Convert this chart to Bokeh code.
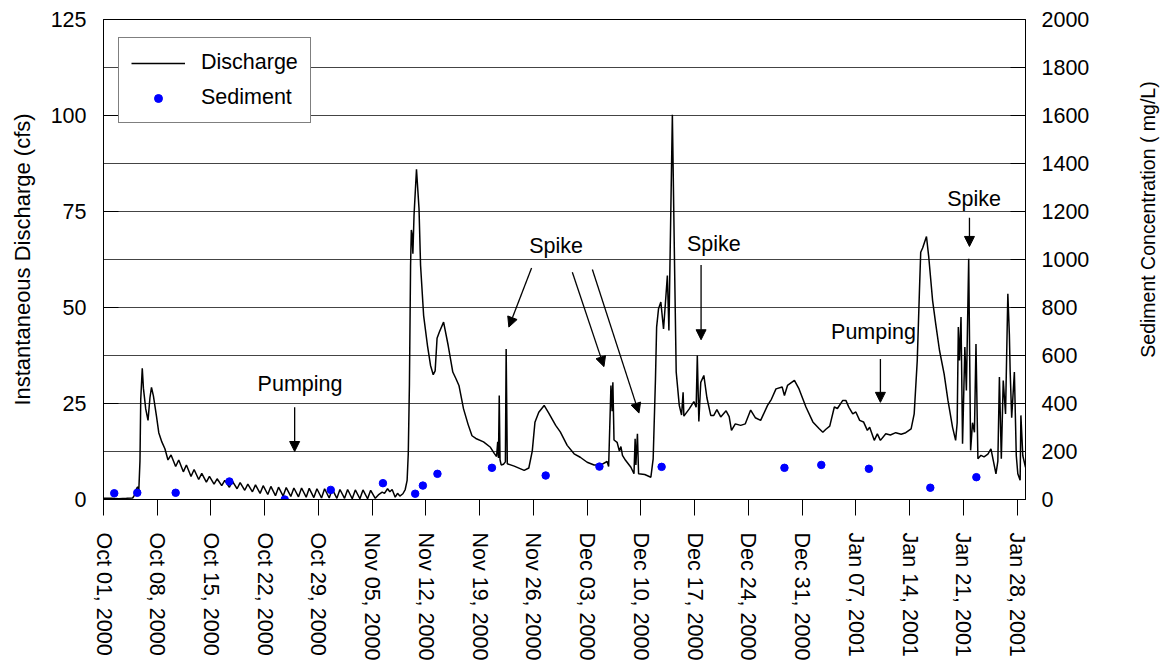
import math
import pandas as pd
from bokeh.plotting import figure
from bokeh.layouts import row
from bokeh.models import (Range1d, LinearAxis, FixedTicker, DatetimeTickFormatter,
                          Legend, LegendItem, Label, Arrow, NormalHead)
from bokeh.embed import file_html
from bokeh.resources import INLINE

START = pd.Timestamp("2000-10-01")
FONT = "Liberation Sans"

# ---- data (days after Oct 01 2000 00:00) ----
discharge_days = [
    0.0, 1.0, 2.0, 3.0, 3.8, 4.0, 4.3, 4.45, 4.6, 4.75, 4.85, 5.05, 5.2, 5.5, 5.8, 6.05, 6.25, 6.5, 6.9, 7.2,
    7.6, 8.0, 8.4, 8.8, 9.4, 9.8, 10.4, 10.8, 11.4, 11.8, 12.4, 12.8, 13.4, 13.8, 14.4, 14.8, 15.4, 15.8,
    16.4, 16.8, 17.4, 17.8, 18.4, 18.8, 19.4, 19.8, 20.4, 20.8, 21.4, 21.8, 22.4, 22.8, 23.4, 23.8, 24.4,
    24.8, 25.4, 25.8, 26.4, 26.8, 27.4, 27.8, 28.4, 28.8, 29.4, 29.8, 30.4, 30.8, 31.4, 31.8, 32.4, 32.8,
    33.4, 33.8, 34.4, 34.8, 35.4, 35.8, 36.3, 36.6, 37.0, 37.3, 37.6, 38.0, 38.3, 38.6, 39.0, 39.3, 39.55,
    39.7, 39.85, 40.0, 40.1, 40.2, 40.3, 40.45, 40.77, 41.1, 41.3, 41.7, 42.2, 42.6, 42.95, 43.2, 43.45,
    43.75, 44.3, 44.9, 45.5, 45.9, 46.3, 46.9, 47.5, 48.0, 48.5, 49.5, 50.4, 50.9, 51.2, 51.35, 51.45,
    51.55, 51.65, 51.8, 52.1, 52.35, 52.45, 52.6, 53.5, 54.8, 55.4, 55.85, 56.2, 56.7, 57.4, 58.0, 58.9,
    59.5, 60.4, 61.3, 62.1, 63.0, 63.9, 64.8, 65.6, 65.8, 66.1, 66.25, 66.35, 66.5, 66.9, 67.2, 67.4, 67.6,
    68.0, 68.7, 69.1, 69.25, 69.35, 69.55, 69.7, 70.5, 71.3, 71.6, 71.9, 72.05, 72.3, 72.6, 72.8, 72.95,
    73.2, 73.45, 73.65, 74.1, 74.4, 74.6, 75.0, 75.3, 75.5, 75.6, 76.3, 76.9, 77.2, 77.35, 77.55, 77.8,
    78.2, 78.6, 79.1, 79.5, 79.9, 80.4, 81.1, 81.5, 81.8, 82.3, 83.0, 83.6, 84.3, 84.9, 85.6, 86.5, 87.0,
    87.6, 88.4, 88.7, 89.1, 90.0, 90.6, 91.5, 92.4, 93.2, 93.7, 94.1, 94.6, 95.2, 95.6, 96.3, 96.7, 97.1,
    97.6, 98.0, 98.5, 99.0, 99.5, 99.8, 100.4, 100.8, 101.2, 101.9, 102.5, 103.2, 103.9, 104.5, 105.2,
    105.6, 106.0, 106.3, 106.45, 106.7, 107.2, 107.5, 108.0, 108.4, 108.9, 109.5, 110.0, 110.6, 111.0,
    111.2, 111.35, 111.5, 111.7, 111.9, 112.2, 112.4, 112.7, 112.95, 113.2, 113.45, 113.65, 113.9, 114.3,
    114.7, 115.2, 115.6, 115.9, 116.25, 116.5, 116.7, 116.95, 117.2, 117.5, 117.8, 118.0, 118.1, 118.3,
    118.65, 118.9, 119.1, 119.4, 119.5, 119.75, 120.1,
]
discharge_cfs = [
    0.3, 0.3, 0.2, 0.3, 0.4, 1.0, 2.8, 3.3, 2.4, 10.0, 26.0, 34.2, 29.0, 23.6, 20.6, 26.5, 29.2, 27.0, 21.7, 17.4,
    15.0, 13.2, 10.3, 11.6, 8.6, 10.3, 7.2, 9.0, 6.0, 7.8, 5.2, 6.8, 4.5, 6.0, 4.0, 5.4, 3.6, 5.0,
    3.2, 4.7, 2.8, 4.4, 2.4, 4.0, 2.0, 3.8, 1.6, 3.6, 1.3, 3.4, 1.0, 3.2, 0.9, 3.1, 0.8,
    3.0, 0.7, 3.0, 0.6, 2.9, 0.5, 2.8, 0.4, 2.8, 0.4, 2.7, 0.3, 2.6, 0.3, 2.6, 0.2, 2.5,
    0.2, 2.5, 0.2, 2.4, 0.3, 1.2, 1.9, 1.6, 2.8, 2.0, 2.6, 0.6, 1.6, 0.9, 1.5, 2.6, 5.0,
    12.0, 30.0, 61.0, 70.2, 69.0, 64.0, 74.0, 86.0, 75.7, 61.0, 47.9, 40.1, 34.9, 32.5, 33.5, 42.0,
    43.6, 46.2, 40.1, 33.2, 31.5, 29.7, 23.6, 19.5, 16.6, 15.9, 15.0, 13.6, 12.0, 11.2, 15.0, 10.8,
    27.1, 10.4, 9.0, 9.2, 9.8, 39.2, 9.3, 8.7, 7.6, 8.2, 12.6, 20.1, 22.7, 24.5, 22.5, 19.3,
    17.6, 14.1, 11.9, 11.0, 9.7, 9.0, 9.0, 9.9, 8.6, 29.7, 23.0, 30.5, 15.5, 14.9, 12.6, 13.8, 11.5,
    10.2, 8.4, 6.7, 15.8, 9.0, 17.1, 6.7, 6.5, 5.8, 10.6, 31.4, 44.9, 49.7, 51.4, 47.4, 44.4,
    51.3, 58.3, 44.0, 100.2, 59.2, 33.2, 24.5, 22.0, 27.9, 21.7, 23.6, 25.5, 24.0, 37.5, 20.3, 30.5,
    32.3, 26.5, 21.9, 21.9, 23.4, 21.5, 23.1, 21.6, 18.0, 19.7, 19.3, 19.7, 23.3, 21.3, 20.6, 24.5, 26.1,
    28.8, 29.3, 27.1, 29.7, 31.0, 28.8, 24.1, 20.2, 18.5, 17.5, 18.3, 19.1, 24.1, 23.7, 25.8, 25.8, 24.0,
    22.3, 22.8, 20.6, 20.2, 18.0, 18.8, 15.4, 17.1, 15.4, 17.1, 16.8, 17.4, 17.0, 17.4, 18.4,
    22.3, 36.2, 55.3, 64.4, 65.5, 68.5, 63.1, 51.8, 45.8, 38.8, 32.7, 25.8, 18.8, 15.4,
    20.0, 44.9, 36.2, 47.5, 14.5, 39.7, 28.4, 62.7, 12.8, 20.0, 17.5, 40.5, 10.6, 11.5,
    11.1, 11.8, 13.2, 10.2, 6.7, 10.0, 31.9, 10.6, 31.0, 22.3, 53.6, 42.9, 33.6, 21.3,
    33.2, 11.4, 6.7, 5.0, 21.9, 11.4, 8.4,
]
sediment_days = [1.4, 4.4, 9.4, 16.4, 23.6, 29.6, 36.4, 40.6, 41.6, 43.5, 50.6, 57.6,
                 64.6, 72.7, 88.7, 93.5, 99.7, 107.7, 113.7]
sediment_mgl = [26, 28, 28, 75, 0, 40, 68, 24, 58, 107, 132, 100,
                137, 136, 132, 144, 128, 49, 93]

tick_dates = ["2000-10-01", "2000-10-08", "2000-10-15", "2000-10-22", "2000-10-29",
              "2000-11-05", "2000-11-12", "2000-11-19", "2000-11-26", "2000-12-03",
              "2000-12-10", "2000-12-17", "2000-12-24", "2000-12-31", "2001-01-07",
              "2001-01-14", "2001-01-21", "2001-01-28"]
left_ticks = [0, 25, 50, 75, 100, 125]
right_ticks = [0, 200, 400, 600, 800, 1000, 1200, 1400, 1600, 1800, 2000]
grid_ticks = [0, 12.5, 25, 37.5, 50, 62.5, 75, 87.5, 100, 112.5, 125]


def ms(d):
    return (START + pd.Timedelta(days=d)).value / 1e6


def dts(days):
    return [START + pd.Timedelta(days=d) for d in days]


p = figure(width=1100, height=664, x_axis_type="datetime", output_backend="svg",
           toolbar_location=None, x_range=Range1d(ms(0), ms(120.1)),
           y_range=Range1d(0, 125), min_border_left=103, min_border_right=75,
           min_border_top=19, min_border_bottom=165)
p.background_fill_color = "white"
p.border_fill_color = "white"
p.outline_line_color = "black"
p.outline_line_width = 1

p.xgrid.visible = False
p.ygrid.ticker = FixedTicker(ticks=grid_ticks)
p.ygrid.grid_line_color = "#444444"
p.ygrid.grid_line_width = 1

xa = p.xaxis[0]
xa.ticker = FixedTicker(ticks=[pd.Timestamp(t).value / 1e6 for t in tick_dates])
fmt = "%b %d, %Y"
xa.formatter = DatetimeTickFormatter(days=fmt, months=fmt, years=fmt, hours=fmt, hourmin=fmt)
xa.major_label_orientation = "vertical"
xa.major_tick_out = 16
xa.major_tick_in = 0
xa.minor_tick_line_color = None
xa.major_label_standoff = 17
xa.major_label_text_font = FONT
xa.major_label_text_font_size = "21.5px"
xa.major_label_text_color = "black"
xa.axis_line_color = "black"
xa.major_tick_line_color = "black"

ya = p.yaxis[0]
ya.ticker = FixedTicker(ticks=left_ticks)
ya.major_tick_in = 15
ya.major_tick_out = 0
ya.minor_tick_line_color = None
ya.major_label_standoff = 17
ya.major_label_text_font = FONT
ya.major_label_text_font_size = "21.5px"
ya.major_label_text_color = "black"
ya.axis_line_color = "black"
ya.major_tick_line_color = "black"
ya.axis_label = "Instantaneous Discharge (cfs)"
ya.axis_label_text_font = FONT
ya.axis_label_text_font_size = "22px"
ya.axis_label_text_font_style = "normal"
ya.axis_label_text_color = "black"
ya.axis_label_standoff = 13

p.extra_y_ranges = {"sed": Range1d(0, 2000)}
ra = LinearAxis(y_range_name="sed", ticker=FixedTicker(ticks=right_ticks))
ra.major_tick_in = 15
ra.major_tick_out = 0
ra.minor_tick_line_color = None
ra.major_label_standoff = 16
ra.major_label_text_font = FONT
ra.major_label_text_font_size = "21.5px"
ra.major_label_text_color = "black"
ra.axis_line_color = "black"
ra.major_tick_line_color = "black"
p.add_layout(ra, "right")

ln = p.line(dts(discharge_days), discharge_cfs, line_color="black", line_width=1.5)
sc = p.scatter(dts(sediment_days), sediment_mgl, y_range_name="sed", size=7.5,
               fill_color="#0000FF", line_color="#0000FF")

legend = Legend(items=[LegendItem(label="Discharge", renderers=[ln]),
                       LegendItem(label="Sediment", renderers=[sc])],
                location=(15, 376), margin=0, padding=12, spacing=10,
                glyph_width=54, glyph_height=20, label_height=20, label_standoff=16,
                label_text_font=FONT, label_text_font_size="21.5px", label_text_color="black",
                border_line_color="black", border_line_width=1,
                background_fill_color="white", background_fill_alpha=1.0)
p.add_layout(legend)

# annotations
texts = [("Pumping", 25.6, 30.2), ("Spike", 58.96, 66.1), ("Spike", 79.5, 66.6),
         ("Pumping", 100.3, 43.5), ("Spike", 113.4, 78.2)]
for t, d, q in texts:
    p.add_layout(Label(x=ms(d), y=q, text=t, text_align="center", text_baseline="alphabetic",
                       text_font=FONT, text_font_size="21.5px", text_color="black"))

arrows = [(24.9, 24.0, 24.9, 12.5), (55.76, 60.3, 52.8, 44.9), (61.07, 59.2, 65.19, 34.6),
          (63.68, 59.9, 69.75, 22.5), (77.84, 61.1, 77.84, 41.6), (101.2, 36.6, 101.2, 25.3),
          (112.8, 73.4, 112.8, 65.9)]
for x0, y0, x1, y1 in arrows:
    p.add_layout(Arrow(end=NormalHead(size=10, fill_color="black", line_color="black", line_width=1),
                       x_start=ms(x0), y_start=y0, x_end=ms(x1), y_end=y1,
                       line_color="black", line_width=1.3))

# right-hand axis title, in a narrow companion panel (reads bottom-to-top);
# the row aligns this panel's frame with the main plot frame (y 19..499)
p2 = figure(width=63, height=664, output_backend="svg", toolbar_location=None,
            x_range=Range1d(0, 1), y_range=Range1d(0, 1), min_border=0,
            x_axis_location=None, y_axis_location=None)
p2.outline_line_color = None
p2.grid.visible = False
p2.background_fill_color = "white"
p2.border_fill_color = "white"
p2.add_layout(Label(x=47, y=280, x_units="screen", y_units="screen", angle=math.pi / 2,
                    text="Sediment Concentration ( mg/L)", text_align="center",
                    text_baseline="middle", text_font=FONT, text_font_size="19.5px",
                    text_color="black"))

layout = row(p, p2, spacing=0)
open("out.html", "w").write(file_html(layout, INLINE))
